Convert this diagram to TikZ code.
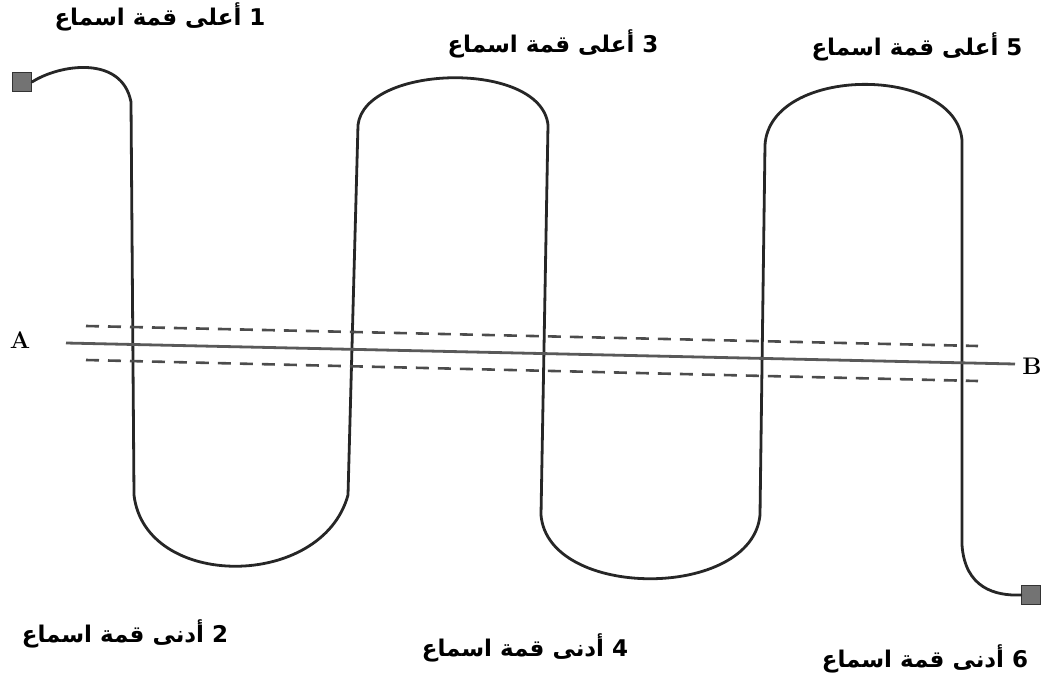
\documentclass[tikz,border=0pt]{standalone}
\usepackage{fontspec}
\usepackage{tikz}
\newfontfamily\arabicfont[Script=Arabic]{DejaVu Sans}
\TeXXeTstate=1

\begin{document}
\begin{tikzpicture}[
    x=1pt, y=-1pt,
    wire/.style={draw=black!85, line width=2.8pt, line cap=round, line join=round},
    axisline/.style={draw=black!65, line width=2.8pt},
    guideline/.style={draw=black!70, line width=2.6pt, dash pattern=on 13pt off 9pt},
    endpad/.style={draw=black!80, fill=black!55, minimum size=19pt, inner sep=0pt, line width=1pt},
    peak/.style={font=\arabicfont\bfseries\fontsize{23}{26}\selectfont, inner sep=0pt},
    pointlabel/.style={font=\fontsize{24}{26}\selectfont\bfseries, inner sep=0pt}
]
\useasboundingbox (0,0) rectangle (1053,675);

% end pads of the wire
\node[endpad] (start) at (22,82) {};
\node[endpad] (finish) at (1031,595) {};

% the wire
\draw[wire] (start.east) .. controls (60,64) and (122,55) .. (131,102)
  -- (134,495) .. controls (145,590) and (322,590) .. (348,495)
  -- (358,125) .. controls (365,64) and (541,60) .. (548,125)
  -- (541,515) .. controls (548,600) and (752,600) .. (760,515)
  -- (765,145) .. controls (770,65) and (955,65) .. (962,140)
  -- (962,545) .. controls (965,588) and (995,596) .. (finish.west);

% section A-B
\node[pointlabel] (ptA) at (20,340) {A};
\node[pointlabel] (ptB) at (1032,366) {B};
\coordinate (abstart) at (66,343);
\coordinate (abend) at (1015,364);
\draw[axisline] (abstart) -- (abend);

\coordinate (upstart) at (86,326);
\coordinate (upend) at (978,346);
\coordinate (lowstart) at (86,360);
\coordinate (lowend) at (978,381);
\draw[guideline] (upstart) -- (upend);
\draw[guideline] (lowstart) -- (lowend);

% crests
\node[peak] (top1) at (160,17) {\beginR 1 أعلى قمة اسماع\endR};
\node[peak] (top3) at (553,44) {\beginR 3 أعلى قمة اسماع\endR};
\node[peak] (top5) at (917,47) {\beginR 5 أعلى قمة اسماع\endR};

% troughs
\node[peak] (low2) at (125,634) {\beginR 2 أدنى قمة اسماع\endR};
\node[peak] (low4) at (525,648) {\beginR 4 أدنى قمة اسماع\endR};
\node[peak] (low6) at (925,659) {\beginR 6 أدنى قمة اسماع\endR};
\end{tikzpicture}
\end{document}
